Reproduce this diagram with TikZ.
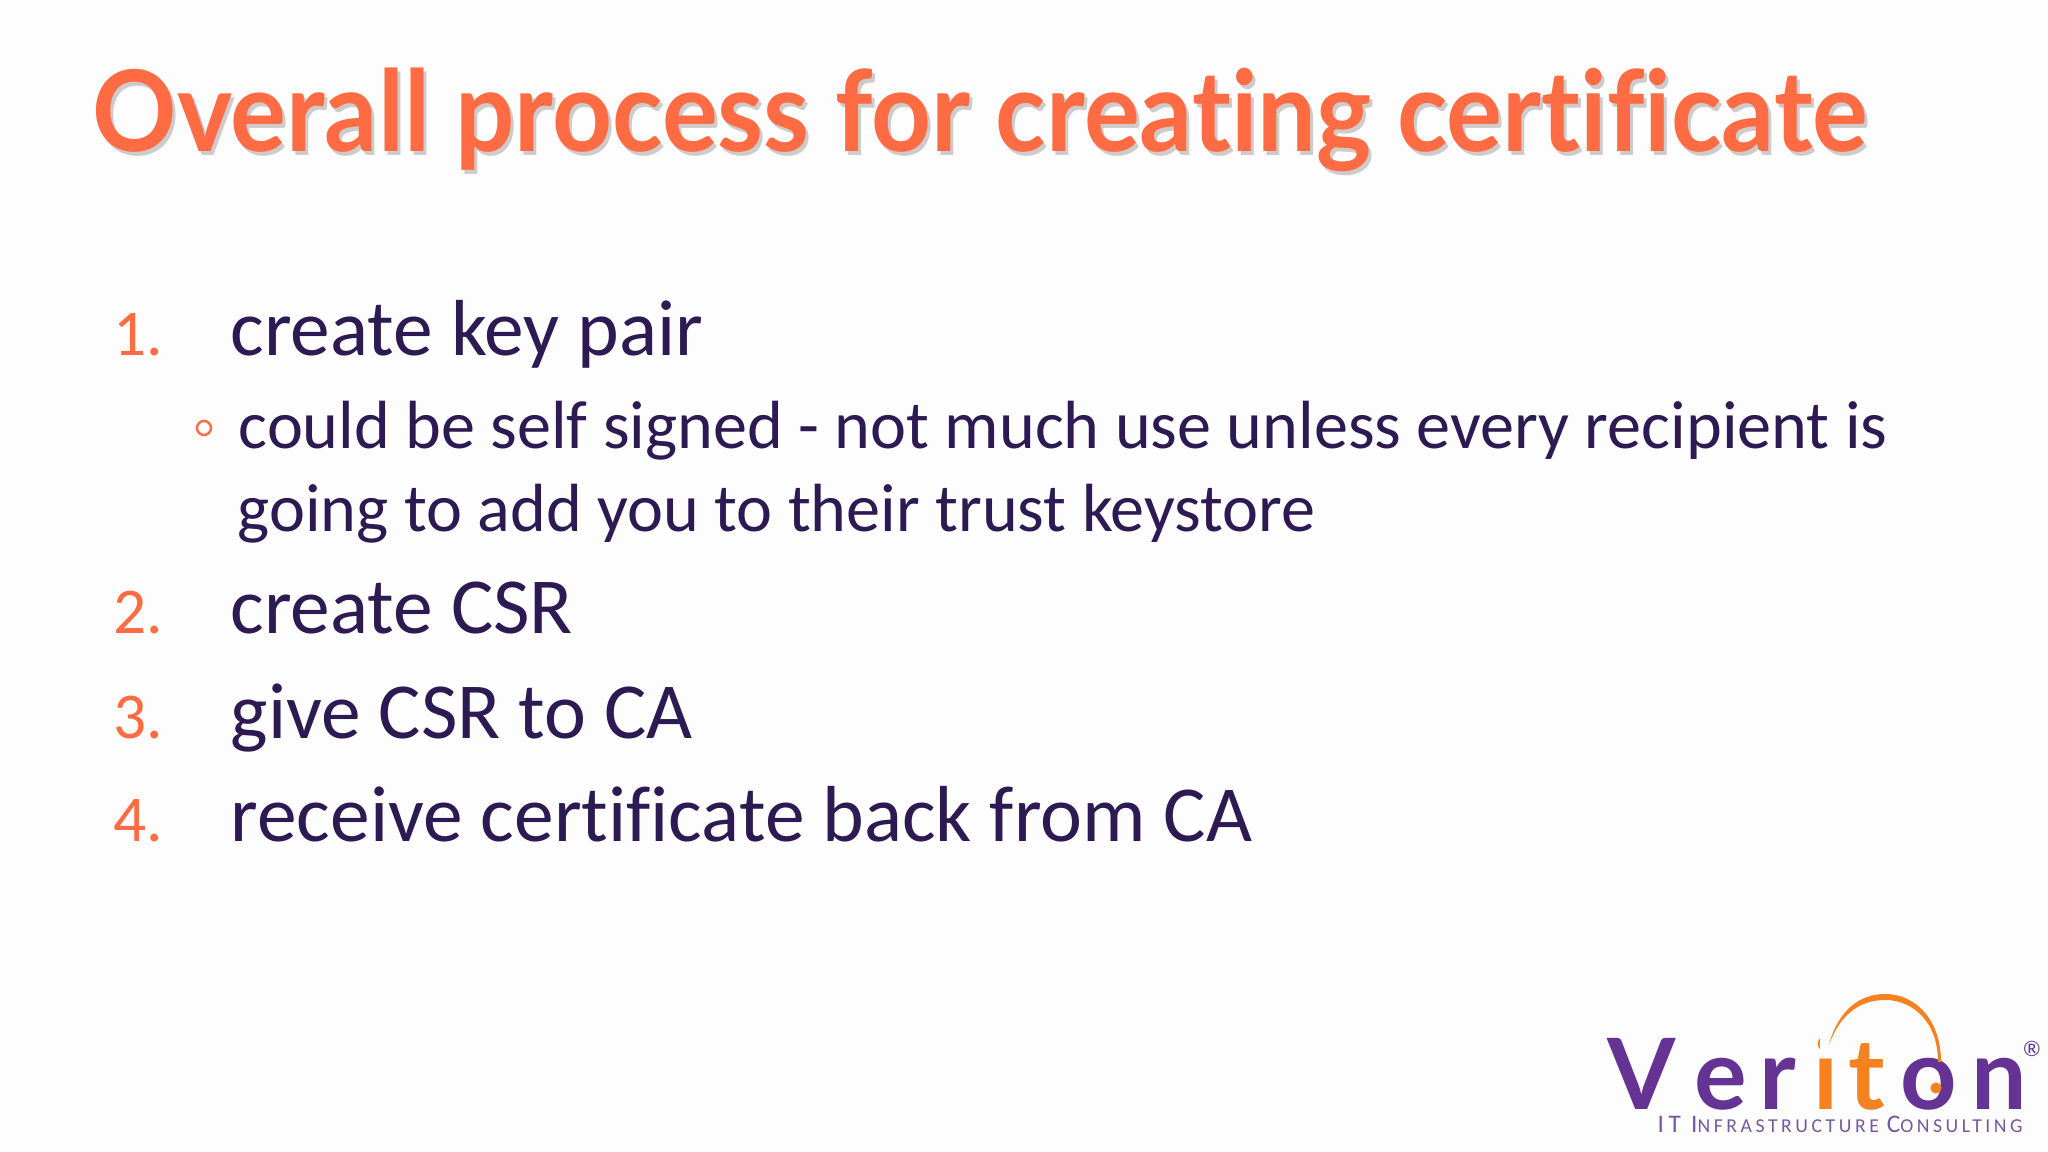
\documentclass[tikz,border=0pt]{standalone}
\usepackage{fontspec}
\setmainfont{Carlito}[Ligatures=NoCommon]
\newfontfamily\headfont{Lato}[Ligatures=NoCommon,FakeStretch=0.93]
\newfontfamily\logofont{Lato}
\newfontfamily\tagfont{Carlito}[LetterSpace=18]
\definecolor{headorange}{HTML}{FF6B42}
\definecolor{headshadow}{HTML}{CFCBCB}
\definecolor{bodypurple}{HTML}{2E1A52}
\definecolor{logopurple}{HTML}{653393}
\definecolor{tagpurple}{HTML}{7558A0}
\definecolor{logoorange}{HTML}{F58220}
\definecolor{slidetint}{HTML}{FEFDFE}
\newcommand{\tagcap}[1]{{\fontsize{7.2}{8}\selectfont #1}}
\tikzset{
  headtext/.style={anchor=base west, inner sep=0pt, font=\headfont\bfseries\fontsize{32}{38}\selectfont},
  itemtext/.style={anchor=base west, inner sep=0pt, text=bodypurple, font=\fontsize{22.6}{24}\selectfont},
  subtext/.style={anchor=base west, inner sep=0pt, text=bodypurple, font=\fontsize{19.4}{20}\selectfont},
  numtext/.style={anchor=base west, inner sep=0pt, text=headorange, font=\fontsize{18.6}{20}\selectfont}
}
\begin{document}
\begin{tikzpicture}
\fill[slidetint] (0,0) rectangle (20.48,11.52);
\useasboundingbox (0,0) rectangle (20.48,11.52);
% title
\draw (0.95,9.96) node[headtext, text=headshadow] (titleshadow) {Overall process for creating certificate};
\draw (0.92,10.00) node[headtext, text=headorange] (title) {Overall process for creating certificate};
% list
\draw (1.13,7.96) node[numtext] (num1) {1.};
\draw (2.30,7.96) node[itemtext] (item1) {create key pair};
\draw (2.04,7.24) node[circle, draw=headorange, line width=0.7pt, minimum size=0.14cm, inner sep=0pt] (bullet) {};
\draw (2.38,7.03) node[subtext] (sub1) {could be self signed - not much use unless every recipient is};
\draw (2.37,6.20) node[subtext] (sub2) {going to add you to their trust keystore};
\draw (1.13,5.18) node[numtext] (num2) {2.};
\draw (2.30,5.18) node[itemtext] (item2) {create CSR};
\draw (1.13,4.13) node[numtext] (num3) {3.};
\draw (2.30,4.13) node[itemtext] (item3) {give CSR to CA};
\draw (1.13,3.10) node[numtext] (num4) {4.};
\draw (2.30,3.10) node[itemtext] (item4) {receive certificate back from CA};
% logo
\draw (16.07,0.42) node[anchor=base west, inner sep=0pt, font=\logofont\bfseries\fontsize{28}{30}\selectfont] (logo)
  {\textcolor{logopurple}{V\kern.19em e\kern.12em r\kern.18em}\textcolor{logoorange}{i\kern.10em t\kern.16em}\textcolor{logopurple}{o\kern.15em n}};
% hides the dot of the i, the arc starts there
\fill[slidetint] (18.20,0.97) rectangle (18.55,1.25);
\fill[logoorange] (18.29,1.07) .. controls (18.38,1.42) and (18.60,1.58) .. (18.85,1.58)
  .. controls (19.15,1.58) and (19.41,1.33) .. (19.41,0.90) -- (19.38,0.90)
  .. controls (19.38,1.30) and (19.13,1.52) .. (18.85,1.52)
  .. controls (18.62,1.52) and (18.41,1.40) .. (18.29,1.07) -- cycle;
\fill[logoorange] (19.36,0.64) circle (0.056);
\draw (16.57,0.19) node[anchor=base west, inner sep=0pt, text=tagpurple, font=\tagfont\fontsize{5.6}{8}\selectfont] (tagline)
  {\tagcap{IT I}NFRASTRUCTURE \tagcap{C}ONSULTING};
\draw (20.32,1.03) node[inner sep=0pt, text=logopurple, font=\logofont\fontsize{6}{6}\selectfont] (regmark) {®};
\end{tikzpicture}
\end{document}
